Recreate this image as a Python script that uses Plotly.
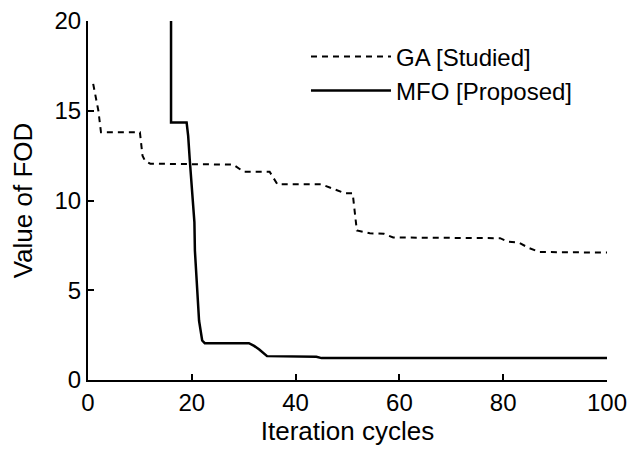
import plotly.graph_objects as go

# GA [Studied] convergence curve
ga_x = [1, 2, 2.5, 10, 10.5, 11, 12, 28, 30, 35, 36.5, 45, 49.5, 51, 51.8, 54.3, 57, 58.8, 79.4, 81, 83, 85, 87, 100]
ga_y = [16.5, 15.0, 13.8, 13.8, 12.5, 12.2, 12.05, 12.0, 11.6, 11.6, 10.9, 10.9, 10.4, 10.4, 8.33, 8.17, 8.15, 7.94, 7.9, 7.7, 7.65, 7.35, 7.13, 7.1]

# MFO [Proposed] convergence curve
mfo_x = [16, 16, 19, 19.3, 19.6, 20, 20.5, 20.6, 21, 21.4, 22, 22.5, 31, 32, 33, 34.5, 44, 45, 100]
mfo_y = [20, 14.35, 14.35, 13.6, 12.3, 10.8, 8.8, 7.2, 5.4, 3.3, 2.2, 2.05, 2.05, 1.9, 1.7, 1.33, 1.3, 1.22, 1.22]

x_ticks = [0, 20, 40, 60, 80, 100]
y_ticks = [0, 5, 10, 15, 20]

FONT = "Liberation Sans, Arial, sans-serif"

fig = go.Figure()
fig.add_trace(go.Scatter(x=ga_x, y=ga_y, mode="lines", name="GA [Studied]",
                         line=dict(color="black", width=2, dash="6px,5px")))
fig.add_trace(go.Scatter(x=mfo_x, y=mfo_y, mode="lines", name="MFO [Proposed]",
                         line=dict(color="black", width=2.5)))

fig.update_layout(
    width=630, height=454,
    margin=dict(l=88, r=23, t=21, b=74, autoexpand=False),
    paper_bgcolor="white", plot_bgcolor="white",
    font=dict(family=FONT, color="black", size=24),
    showlegend=True,
    legend=dict(x=0.42, y=0.963, xanchor="left", yanchor="top",
                bgcolor="rgba(0,0,0,0)", font=dict(size=24, family=FONT),
                itemwidth=80, tracegroupgap=0),
    xaxis=dict(range=[0, 100], tickvals=x_ticks, showline=True, linecolor="black",
               linewidth=2, ticks="inside", ticklen=6, tickwidth=2, tickcolor="black",
               showgrid=False, zeroline=False, mirror=False, automargin=False,
               title=dict(text="Iteration cycles", font=dict(size=26), standoff=4),
               tickfont=dict(size=24)),
    yaxis=dict(range=[0, 20], tickvals=y_ticks, showline=True, linecolor="black",
               linewidth=2, ticks="inside", ticklen=6, tickwidth=2, tickcolor="black",
               showgrid=False, zeroline=False, mirror=False, automargin=False,
               title=dict(text="Value of FOD", font=dict(size=26), standoff=14),
               tickfont=dict(size=24)),
)

fig.write_html("out.html")
